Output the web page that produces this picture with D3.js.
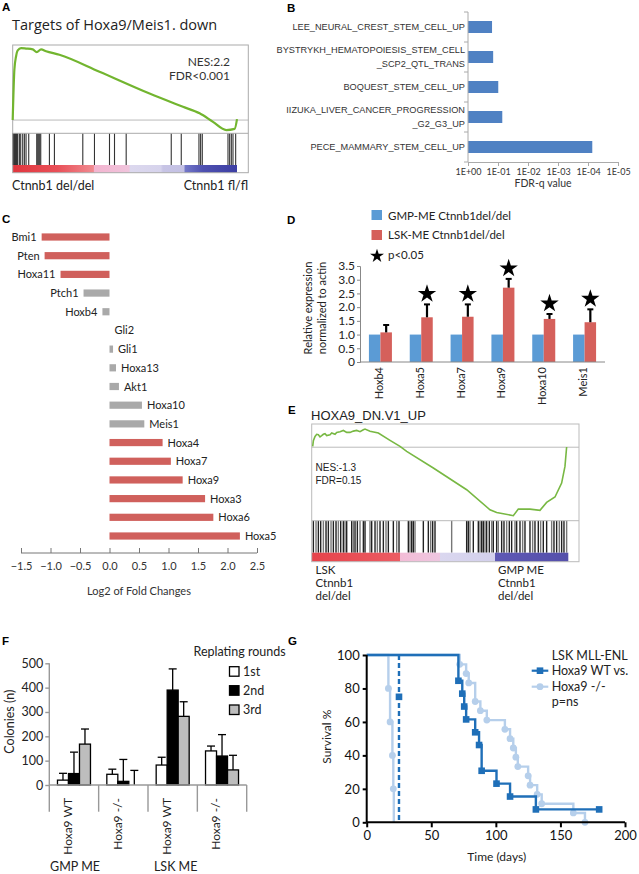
<!DOCTYPE html>
<html><head><meta charset="utf-8">
<script src="https://cdn.jsdelivr.net/npm/d3@7"></script>
<style>body{margin:0;background:#fff}</style>
</head><body><script>
// ================= DATA =================
// Panel A: GSEA running enrichment score (rank, ES) and hits
const aRank = [0,5,10,15,25,40,60,72,85,100,140,260,410,510,560,600,640,665,672];
const aES   = [0,0.57,0.72,0.79,0.815,0.81,0.80,0.77,0.80,0.78,0.74,0.547,0.30,0.15,0.076,-0.02,-0.113,-0.10,0.01];
const aHits = [0,1.5,3,4.5,6,7.5,9,10.5,12,13.5,15,20,24,30,35,40,48,72,75,78,81,84,110,125,210,245,290,305,340,475,505,558,563,568,645,650,655,660,668];
const aTitle = "Targets of Hoxa9/Meis1. down";
const aStats = ["NES:2.2","FDR<0.001"];
const aGroups = ["Ctnnb1 del/del","Ctnnb1 fl/fl"];

// Panel B
const bSets = ["LEE_NEURAL_CREST_STEM_CELL_UP","BYSTRYKH_HEMATOPOIESIS_STEM_CELL\n_SCP2_QTL_TRANS","BOQUEST_STEM_CELL_UP","IIZUKA_LIVER_CANCER_PROGRESSION\n_G2_G3_UP","PECE_MAMMARY_STEM_CELL_UP"];
const bFDR = [0.158,0.145,0.098,0.072,7.2e-5];
const bTicks = [1,1e-1,1e-2,1e-3,1e-4,1e-5];
const bTickLabels = ["1E+00","1E-01","1E-02","1E-03","1E-04","1E-05"];
const bAxisTitle = "FDR-q value";

// Panel C
const cGenes = ["Bmi1","Pten","Hoxa11","Ptch1","Hoxb4","Gli2","Gli1","Hoxa13","Akt1","Hoxa10","Meis1","Hoxa4","Hoxa7","Hoxa9","Hoxa3","Hoxa6","Hoxa5"];
const cLog2FC = [-1.15,-1.10,-0.83,-0.44,-0.12,0,0.06,0.11,0.16,0.55,0.59,0.90,1.04,1.24,1.62,1.76,2.21];
const cSig = [1,1,1,0,0,0,0,0,0,0,0,1,1,1,1,1,1];
const cTicks = [-1.5,-1.0,-0.5,0,0.5,1.0,1.5,2.0,2.5];
const cAxisTitle = "Log2 of Fold Changes";

// Panel D
const dGenes = ["Hoxb4","Hoxa5","Hoxa7","Hoxa9","Hoxa10","Meis1"];
const dGMP = [1,1,1,1,1,1];
const dLSK = [1.08,1.63,1.65,2.71,1.57,1.45];
const dLSKErr = [0.27,0.47,0.45,0.32,0.18,0.47];
const dSig = [0,1,1,1,1,1];
const dTicks = [0,0.5,1.0,1.5,2.0,2.5,3.0,3.5];
const dLegend = ["GMP-ME Ctnnb1del/del","LSK-ME Ctnnb1del/del","p<0.05"];
const dAxisTitle = ["Relative expression","normalized to actin"];

// Panel E
const eTitle = "HOXA9_DN.V1_UP";
const eRank = [3,5,10,15,20,25,30,35,40,45,55,60,70,75,85,95,105,115,125,135,145,155,160,175,200,235,265,285,365,465,535,555,605,620,655,685,705,730,750,760,765];
const eES   = [0.006,0.05,0.084,0.10,0.097,0.08,0.089,0.10,0.105,0.09,0.097,0.11,0.10,0.115,0.12,0.130,0.115,0.115,0.125,0.130,0.12,0.135,0.141,0.123,0.110,0.053,0.006,-0.033,-0.161,-0.330,-0.485,-0.506,-0.531,-0.480,-0.480,-0.490,-0.428,-0.386,-0.278,-0.149,0.002];
const eHits = [5,13,20,27,35,43,50,58,65,73,80,87,95,100,105,120,125,130,137,145,155,160,175,180,190,197,205,215,223,230,245,255,262,290,295,300,305,310,335,350,357,363,370,420,465,470,475,485,500,505,510,515,520,525,533,540,545,555,560,570,577,585,593,600,610,615,625,633,640,655,663,670,680,687,695,705,720,727,735,743,750,757,765];
const eStats = ["NES:-1.3","FDR=0.15"];
const eGroups = [["LSK","Ctnnb1","del/del"],["GMP ME","Ctnnb1","del/del"]];

// Panel F
const fGroups = ["Hoxa9 WT","Hoxa9 -/-","Hoxa9 WT","Hoxa9 -/-"];
const fCells = ["GMP ME","LSK ME"];
const fRounds = ["1st","2nd","3rd"];
const f1st = [20,44,82,140];
const f1stErr = [28,21,32,20];
const f2nd = [47,15,390,119];
const f2ndErr = [88,90,87,88];
const f3rd = [168,0,282,62];
const f3rdErr = [62,60,60,60];
const fTicks = [0,100,200,300,400,500];
const fLegendTitle = "Replating rounds";
const fAxisTitle = "Colonies (n)";

// Panel G (Kaplan-Meier)
const wtTime = [0,71,74,75.5,77,84,87,89,100.5,111,131,180];
const wtSurv = [100,84.6,76.9,69.2,61.5,53.8,46.2,30.8,23.1,15.4,7.7,7.7];
const koTime = [0,72,77,79,84,88,93,107,111,113.5,115.5,117,125,126.5,132,135.5,160,169];
const koSurv = [100,94.4,88.9,83.3,72.2,66.7,61.1,55.6,50,44.4,38.9,33.3,27.8,22.2,16.7,11.1,5.6,0];
const wgTime = [0,25,25];
const wgSurv = [100,75,0];
const kgTime = [0,16.8,18.1,19.9,20.6,21];
const kgSurv = [100,80,60,40,20,0];
const gXTicks = [0,50,100,150,200];
const gYTicks = [0,20,40,60,80,100];
const gLegend = ["LSK MLL-ENL","Hoxa9 WT vs.","Hoxa9 -/-","p=ns"];
const gXTitle = "Time (days)";
const gYTitle = "Survival %";

// ================= DRAW =================
const svg = d3.select("body").append("svg").attr("width",639).attr("height",874).style("display","block");
const F = "Lato, 'Open Sans', sans-serif";
const FA = "'Liberation Sans', Arial, sans-serif";
const FO = "'Open Sans', sans-serif";
function T(g,x,y,s,o={}){
  return g.append("text").attr("x",x).attr("y",y).text(s)
    .attr("font-family",o.ff||F).attr("font-size",o.fs||11).attr("fill",o.fill||"#222")
    .attr("text-anchor",o.a||"start").attr("font-weight",o.fw||"normal")
    .attr("transform",o.rot?`rotate(${o.rot},${x},${y})`:null);
}
const defs = svg.append("defs");
function grad(id,stops){
  const g=defs.append("linearGradient").attr("id",id).attr("x1","0").attr("x2","1").attr("y1","0").attr("y2","0");
  stops.forEach(s=>g.append("stop").attr("offset",s[0]).attr("stop-color",s[1]));
}
grad("gA",[[0,"#e0353d"],[0.2,"#e95058"],[0.36,"#f08a90"],[0.362,"#f3b4cf"],[0.52,"#f0c4dc"],[0.522,"#dcd8ee"],[0.66,"#d6d3ec"],[0.67,"#c7c4e5"],[0.765,"#c4c1e4"],[0.767,"#7478c8"],[0.85,"#4e50b0"],[1,"#3c3ea3"]]);
grad("gE",[[0,"#e6434b"],[0.344,"#ec5c63"],[0.346,"#f3bcd6"],[0.5,"#eec6e0"],[0.502,"#dad7ef"],[0.714,"#d3d0ec"],[0.716,"#5e58b4"],[1,"#5550ab"]]);

// panel letters
[["A",2,11],["B",287,12],["C",2,223],["D",287,224],["E",288,414],["F",2,645],["G",288,645]]
  .forEach(p=>T(svg,p[1],p[2],p[0],{ff:FA,fs:11.5,fw:"bold",fill:"#000"}));

// ---------- Panel A ----------
{
  const g = svg.append("g");
  const L=12.7,R=248.3,TOP=45,SEP=133.3,HB=165,BOT=172.7;
  const ax=d3.scaleLinear().domain([0,672]).range([L,237]);
  const ay=d3.scaleLinear().domain([-0.15,0.85]).range([SEP,TOP]);
  T(g,12,30,aTitle,{ff:FO,fs:14.5,fill:"#222"});
  g.selectAll(".ah").data(aHits).join("line").attr("x1",d=>ax(d)).attr("x2",d=>ax(d))
    .attr("y1",SEP).attr("y2",HB).attr("stroke","#333").attr("stroke-width",1.1);
  g.append("rect").attr("x",L).attr("y",HB).attr("width",237-L).attr("height",BOT-HB).attr("fill","url(#gA)");
  g.append("line").attr("x1",L).attr("x2",R).attr("y1",ay(0)).attr("y2",ay(0)).attr("stroke","#bbb");
  g.append("line").attr("x1",L).attr("x2",R).attr("y1",SEP).attr("y2",SEP).attr("stroke","#aaa");
  g.append("rect").attr("x",L).attr("y",TOP).attr("width",R-L).attr("height",BOT-TOP).attr("fill","none").attr("stroke","#aaa");
  const pts=aRank.map((r,i)=>[r,aES[i]]);
  g.append("path").attr("d",d3.line().x(d=>ax(d[0])).y(d=>ay(d[1])).curve(d3.curveMonotoneX)(pts))
    .attr("fill","none").attr("stroke","#72b52f").attr("stroke-width",2.2);
  T(g,230,65.5,aStats[0],{fs:12,a:"end",fill:"#333"});
  T(g,230,80,aStats[1],{fs:12,a:"end",fill:"#333"});
  T(g,12,190,aGroups[0],{fs:12.5});
  T(g,248,190,aGroups[1],{fs:12.5,a:"end"});
}

// ---------- Panel B ----------
{
  const g = svg.append("g");
  const bx=d3.scaleLog().domain([1,1e-5]).range([468,618]);
  const by=d3.scaleBand().domain(bSets).range([12,162]).paddingInner(0.6).paddingOuter(0.3);
  g.selectAll(".bb").data(bSets).join("rect").attr("x",bx(1)).attr("y",d=>by(d))
    .attr("width",(d,i)=>bx(bFDR[i])-bx(1)).attr("height",by.bandwidth()).attr("fill","#4f81c3");
  const xa=g.append("g").attr("transform","translate(0,162)")
    .call(d3.axisBottom(bx).tickValues(bTicks).tickFormat((d,i)=>bTickLabels[i]).tickSize(4).tickPadding(3));
  xa.selectAll("path,line").attr("stroke","#aaa");
  xa.selectAll("text").attr("font-family",F).attr("font-size",9).attr("fill","#333");
  g.append("line").attr("x1",468).attr("x2",468).attr("y1",12).attr("y2",162).attr("stroke","#aaa");
  const edges=bSets.map(d=>by(d)-by.step()*0.3).concat([162]);
  g.selectAll(".bt").data(edges).join("line").attr("x1",464).attr("x2",468).attr("y1",d=>d).attr("y2",d=>d).attr("stroke","#aaa");
  bSets.forEach(s=>{
    const lines=s.split("\n"); const cy=by(s)+by.bandwidth()/2;
    lines.forEach((l,j)=>{
      const yy = lines.length===1? cy+3.3 : cy+3.3+(j-0.5)*14;
      T(g,465,yy,l,{ff:FA,fs:9.2,a:"end",fill:"#333"});
    });
  });
  T(g,543,187,bAxisTitle,{fs:10.5,a:"middle",fill:"#333"});
}

// ---------- Panel C ----------
{
  const g = svg.append("g");
  const cx=d3.scaleLinear().domain([-1.5,2.5]).range([21,257]);
  const cy=d3.scalePoint().domain(cGenes).range([237,536]);
  const bh=7.2;
  g.selectAll(".cb").data(cGenes).join("rect")
    .attr("x",(d,i)=>cx(Math.min(0,cLog2FC[i]))).attr("y",d=>cy(d)-bh/2)
    .attr("width",(d,i)=>Math.abs(cx(cLog2FC[i])-cx(0))).attr("height",bh)
    .attr("fill",(d,i)=>cSig[i]?"#d0605c":"#a9a9a9");
  cGenes.forEach((d,i)=>{
    const v=cLog2FC[i];
    if(v<0) T(g,cx(v)-5,cy(d)+4,d,{fs:11,a:"end"});
    else T(g,cx(v)+5,cy(d)+4,d,{fs:11});
  });
  const xa=g.append("g").attr("transform","translate(0,553)")
    .call(d3.axisBottom(cx).tickValues(cTicks).tickFormat(d3.format(".1f")).tickSize(-5).tickPadding(9));
  xa.selectAll("path,line").attr("stroke","#777");
  xa.select(".domain").attr("d","M21,0H257");
  xa.selectAll("text").attr("font-family",F).attr("font-size",11).attr("fill","#333");
  T(g,139,595,cAxisTitle,{fs:11,a:"middle",fill:"#333"});
}

// ---------- Panel D ----------
{
  const g = svg.append("g");
  const dx=d3.scaleBand().domain(dGenes).range([360,605]);
  const dy=d3.scaleLinear().domain([0,3.5]).range([362,266]);
  const bw=11.5;
  g.selectAll(".dg").data(dGenes).join("rect").attr("x",d=>dx(d)+dx.bandwidth()/2-bw).attr("y",(d,i)=>dy(dGMP[i]))
    .attr("width",bw).attr("height",(d,i)=>dy(0)-dy(dGMP[i])).attr("fill","#5b9bd5");
  g.selectAll(".dl").data(dGenes).join("rect").attr("x",d=>dx(d)+dx.bandwidth()/2).attr("y",(d,i)=>dy(dLSK[i]))
    .attr("width",bw).attr("height",(d,i)=>dy(0)-dy(dLSK[i])).attr("fill","#d5605b");
  dGenes.forEach((d,i)=>{
    const xc=dx(d)+dx.bandwidth()/2+bw/2, top=dy(dLSK[i]+dLSKErr[i]);
    g.append("line").attr("x1",xc).attr("x2",xc).attr("y1",dy(dLSK[i])).attr("y2",top).attr("stroke","#000").attr("stroke-width",2.2);
    g.append("line").attr("x1",xc-3).attr("x2",xc+3).attr("y1",top).attr("y2",top).attr("stroke","#000").attr("stroke-width",2);
    if(dSig[i]) g.append("path").attr("d",d3.symbol(d3.symbolStar,105)()).attr("transform",`translate(${xc},${top-10.5})`).attr("fill","#000");
  });
  const ya=g.append("g").attr("transform","translate(360,0)")
    .call(d3.axisLeft(dy).tickValues(dTicks).tickFormat(d=>d===0?"0":d.toFixed(1)).tickSize(3).tickPadding(2));
  ya.selectAll("path,line").attr("stroke","#888");
  ya.selectAll("text").attr("font-family",F).attr("font-size",12).attr("fill","#222");
  g.append("line").attr("x1",360).attr("x2",605).attr("y1",362).attr("y2",362).attr("stroke","#888");
  dGenes.forEach(d=>T(g,dx(d)+dx.bandwidth()/2+2.5,367,d,{fs:11,a:"end",rot:-90}));
  T(g,312,308,dAxisTitle[0],{fs:11,a:"middle",rot:-90});
  T(g,326,308,dAxisTitle[1],{fs:11,a:"middle",rot:-90});
  // legend
  g.append("rect").attr("x",371.5).attr("y",210).attr("width",10.5).attr("height",10).attr("fill","#5b9bd5");
  g.append("rect").attr("x",371.5).attr("y",230).attr("width",10.5).attr("height",10).attr("fill","#d5605b");
  g.append("path").attr("d",d3.symbol(d3.symbolStar,60)()).attr("transform","translate(377,256)").attr("fill","#000");
  T(g,388,219.5,dLegend[0],{fs:11.5});
  T(g,388,239,dLegend[1],{fs:11.5});
  T(g,388,259,dLegend[2],{fs:11.5});
}

// ---------- Panel E ----------
{
  const g = svg.append("g");
  const L=311.7,R=579,TOP=424,SEP=520.7,HB=552.7,BOT=561.7;
  const ex=d3.scaleLinear().domain([0,770]).range([L,568.3]);
  const ey=d3.scaleLinear().domain([-0.57,0.18]).range([SEP,TOP]);
  T(g,311,420,eTitle,{ff:FA,fs:13,fill:"#222"});
  g.selectAll(".eh").data(eHits).join("line").attr("x1",d=>ex(d)).attr("x2",d=>ex(d))
    .attr("y1",SEP).attr("y2",HB).attr("stroke",(d,i)=>i%3===1?"#777":"#222").attr("stroke-width",1.4);
  g.append("rect").attr("x",L).attr("y",HB).attr("width",568.3-L).attr("height",BOT-HB).attr("fill","url(#gE)");
  g.append("line").attr("x1",L).attr("x2",R).attr("y1",ey(0)).attr("y2",ey(0)).attr("stroke","#bbb");
  g.append("line").attr("x1",L).attr("x2",R).attr("y1",SEP).attr("y2",SEP).attr("stroke","#bbb");
  g.append("rect").attr("x",L).attr("y",TOP).attr("width",R-L).attr("height",BOT-TOP).attr("fill","none").attr("stroke","#bbb");
  const pts=eRank.map((r,i)=>[r,eES[i]]);
  g.append("path").attr("d",d3.line().x(d=>ex(d[0])).y(d=>ey(d[1])).curve(d3.curveLinear)(pts))
    .attr("fill","none").attr("stroke","#78b843").attr("stroke-width",1.6);
  T(g,315.5,471,eStats[0],{ff:FA,fs:10,fill:"#222"});
  T(g,315.5,484,eStats[1],{ff:FA,fs:10,fill:"#222"});
  eGroups[0].forEach((s,j)=>T(g,315.5,573.5+j*13.3,s,{fs:11.5}));
  eGroups[1].forEach((s,j)=>T(g,498,573.5+j*13.3,s,{fs:11.5}));
}

// ---------- Panel F ----------
{
  const g = svg.append("g");
  const fx=d3.scaleBand().domain(d3.range(fGroups.length)).range([49.3,246.7]);
  const fy=d3.scaleLinear().domain([0,500]).range([785,663.3]);
  const bw=11;
  const series=[[f1st,f1stErr,"#fff"],[f2nd,f2ndErr,"#000"],[f3rd,f3rdErr,"#bdbdbd"]];
  series.forEach((s,k)=>{
    fGroups.forEach((d,i)=>{
      const xc=fx(i)+fx.bandwidth()/2+(k-1)*bw;
      const top=fy(s[0][i]+s[1][i]);
      g.append("line").attr("x1",xc).attr("x2",xc).attr("y1",fy(s[0][i])).attr("y2",top).attr("stroke","#000").attr("stroke-width",1.3);
      g.append("line").attr("x1",xc-4).attr("x2",xc+4).attr("y1",top).attr("y2",top).attr("stroke","#000").attr("stroke-width",1.3);
    });
  });
  series.forEach((s,k)=>{
    g.selectAll(".fb"+k).data(fGroups).join("rect")
      .attr("x",(d,i)=>fx(i)+fx.bandwidth()/2+(k-1)*bw-bw/2).attr("y",(d,i)=>fy(s[0][i]))
      .attr("width",bw).attr("height",(d,i)=>fy(0)-fy(s[0][i]))
      .attr("fill",s[2]).attr("stroke","#000").attr("stroke-width",(d,i)=>s[0][i]>0?1.3:0);
  });
  const ya=g.append("g").attr("transform","translate(49.3,0)")
    .call(d3.axisLeft(fy).tickValues(fTicks).tickSize(4).tickPadding(2));
  ya.selectAll("path,line").attr("stroke","#999").attr("stroke-width",1.4);
  ya.select(".domain").attr("d","M0,663.3V785");
  ya.selectAll("text").attr("font-family",F).attr("font-size",12.5).attr("fill","#222");
  g.append("line").attr("x1",49.3).attr("x2",246.7).attr("y1",785).attr("y2",785).attr("stroke","#999").attr("stroke-width",1.4);
  const edges=fGroups.map((d,i)=>fx(i)).concat([246.7]);
  g.selectAll(".fs").data(edges).join("line").attr("x1",d=>d).attr("x2",d=>d).attr("y1",785).attr("y2",811.7).attr("stroke","#999").attr("stroke-width",1.4);
  fGroups.forEach((d,i)=>T(g,fx(i)+fx.bandwidth()/2-1.6,798,d,{fs:12,a:"end",rot:-90}));
  T(g,75,871,fCells[0],{fs:12.5,a:"middle"});
  T(g,175.7,871,fCells[1],{fs:12.5,a:"middle"});
  T(g,14.5,721.7,fAxisTitle,{fs:12.5,a:"middle",rot:-90});
  T(g,193.5,656,fLegendTitle,{fs:12.5});
  const lf=["#fff","#000","#bdbdbd"], ly=[666.7,685.7,705];
  fRounds.forEach((r,k)=>{
    g.append("rect").attr("x",229.5).attr("y",ly[k]).attr("width",9.5).attr("height",9.5).attr("fill",lf[k]).attr("stroke","#000").attr("stroke-width",1.3);
    T(g,243,ly[k]+9,r,{fs:12.5});
  });
}

// ---------- Panel G ----------
{
  const g = svg.append("g");
  const gx=d3.scaleLinear().domain([0,200]).range([366.7,625]);
  const gy=d3.scaleLinear().domain([0,100]).range([822.3,655]);
  const step=d3.line().x(d=>gx(d[0])).y(d=>gy(d[1])).curve(d3.curveStepAfter);
  const DB="#1f6fb8", LB="#b6cfeb";
  const ko=koTime.map((t,i)=>[t,koSurv[i]]);
  const kg=kgTime.map((t,i)=>[t,kgSurv[i]]);
  const wt=wtTime.map((t,i)=>[t,wtSurv[i]]);
  const wg=wgTime.map((t,i)=>[t,wgSurv[i]]);
  g.append("path").attr("d",step(ko)).attr("fill","none").attr("stroke",LB).attr("stroke-width",2.4);
  g.append("path").attr("d",step(kg)).attr("fill","none").attr("stroke",LB).attr("stroke-width",2.4);
  g.selectAll(".kom").data(ko.slice(1)).join("circle").attr("cx",d=>gx(d[0])).attr("cy",d=>gy(d[1])).attr("r",3.4).attr("fill",LB);
  g.selectAll(".kgm").data(kg.slice(1,-1)).join("circle").attr("cx",d=>gx(d[0])).attr("cy",d=>gy(d[1])).attr("r",3.4).attr("fill",LB);
  g.append("path").attr("d",d3.line().x(d=>gx(d[0])).y(d=>gy(d[1]))([[wgTime[1],100],[wgTime[2],wgSurv[2]]])).attr("fill","none").attr("stroke",DB).attr("stroke-width",2.4).attr("stroke-dasharray","5,3");
  g.append("path").attr("d",step(wt)).attr("fill","none").attr("stroke",DB).attr("stroke-width",2.4);
  g.selectAll(".wtm").data(wt.slice(1)).join("rect").attr("x",d=>gx(d[0])-3.3).attr("y",d=>gy(d[1])-3.3).attr("width",6.6).attr("height",6.6).attr("fill",DB);
  g.selectAll(".wgm").data([wg[1]]).join("rect").attr("x",d=>gx(d[0])-3.3).attr("y",d=>gy(d[1])-3.3).attr("width",6.6).attr("height",6.6).attr("fill",DB);
  const xa=g.append("g").attr("transform","translate(0,822.3)")
    .call(d3.axisBottom(gx).tickValues(gXTicks).tickSize(5).tickPadding(3));
  xa.selectAll("path,line").attr("stroke","#000").attr("stroke-width",2);
  xa.select(".domain").attr("d","M366.7,0H625");
  xa.selectAll("text").attr("font-family",F).attr("font-size",13).attr("fill","#111");
  const ya=g.append("g").attr("transform","translate(366.7,0)")
    .call(d3.axisLeft(gy).tickValues(gYTicks).tickSize(4).tickPadding(3));
  ya.selectAll("path,line").attr("stroke","#000").attr("stroke-width",2);
  ya.select(".domain").attr("d","M0,655V822.3");
  ya.selectAll("text").attr("font-family",F).attr("font-size",13).attr("fill","#111");
  T(g,496.7,861,gXTitle,{fs:12,a:"middle"});
  T(g,331,736.7,gYTitle,{fs:12,a:"middle",rot:-90});
  T(g,551.7,659.5,gLegend[0],{fs:12.5});
  T(g,551.7,675,gLegend[1],{fs:12.5});
  T(g,551.7,691,gLegend[2],{fs:12.5});
  T(g,551.7,706,gLegend[3],{fs:12.5});
  g.append("line").attr("x1",531.7).attr("x2",548.3).attr("y1",670.7).attr("y2",670.7).attr("stroke",DB).attr("stroke-width",2.2);
  g.append("rect").attr("x",536.7).attr("y",667.4).attr("width",6.6).attr("height",6.6).attr("fill",DB);
  g.append("line").attr("x1",531.7).attr("x2",548.3).attr("y1",686.7).attr("y2",686.7).attr("stroke",LB).attr("stroke-width",2.2);
  g.append("circle").attr("cx",540).attr("cy",686.7).attr("r",3.4).attr("fill",LB);
}
</script></body></html>
